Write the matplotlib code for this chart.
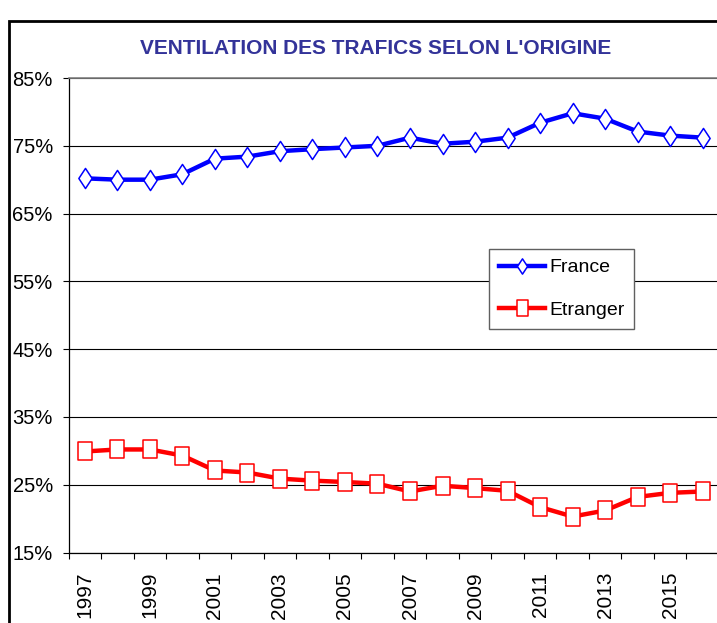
import matplotlib
matplotlib.use("Agg")
import matplotlib.pyplot as plt
from matplotlib.path import Path
from matplotlib.patches import Rectangle
from matplotlib.ticker import FixedLocator, FuncFormatter

# ---- data ----
years = list(range(1997, 2017))
france = [70.2, 70.0, 70.0, 70.8, 73.1, 73.4, 74.2, 74.5, 74.75, 75.0,
          76.2, 75.3, 75.6, 76.2, 78.4, 79.8, 79.0, 77.1, 76.5, 76.2]
etranger = [29.9, 30.2, 30.2, 29.3, 27.1, 26.8, 25.9, 25.6, 25.4, 25.15,
            24.0, 24.85, 24.5, 24.1, 21.7, 20.3, 21.2, 23.2, 23.8, 24.0]
yticks = [15, 25, 35, 45, 55, 65, 75, 85]
title = "VENTILATION DES TRAFICS SELON L'ORIGINE"

W, H = 717, 623
fig = plt.figure(figsize=(W / 100, H / 100), dpi=100)
fig.patch.set_facecolor("white")

# outer frame (top and left visible, rest cut off)
fig.add_artist(Rectangle((9 / W, -0.2), 1.2, 1.2 - 20.5 / H,
                         transform=fig.transFigure, fill=False,
                         edgecolor="black", linewidth=2.0, zorder=0))

ax = fig.add_axes([68.5 / W, 1 - 552.5 / H, (719 - 68.5) / W, (552.5 - 78) / H])
ax.set_facecolor("white")

x = list(range(len(years)))

diamond = Path([(0, -1), (0.66, 0), (0, 1), (-0.66, 0), (0, -1)],
               [Path.MOVETO, Path.LINETO, Path.LINETO, Path.LINETO, Path.CLOSEPOLY])
rect = Path([(-0.72, -1), (0.72, -1), (0.72, 1), (-0.72, 1), (-0.72, -1)],
            [Path.MOVETO, Path.LINETO, Path.LINETO, Path.LINETO, Path.CLOSEPOLY])

ax.plot(x, france, color="#0000FF", linewidth=3.2, marker=diamond,
        markersize=14.5, markerfacecolor="white", markeredgecolor="#0000FF",
        markeredgewidth=1.1, label="France", zorder=3)
ax.plot(x, etranger, color="#FF0000", linewidth=3.2, marker=rect,
        markersize=13.5, markerfacecolor="white", markeredgecolor="#FF0000",
        markeredgewidth=1.1, label="Etranger", zorder=3)

ax.set_xlim(-0.5, len(years) - 0.5)
ax.set_ylim(15, 85)

# y axis
ax.set_yticks(yticks)
ax.yaxis.set_major_formatter(FuncFormatter(lambda v, p: f"{int(v)}%"))
ax.tick_params(axis="y", direction="out", length=4.3, width=0.8, pad=7,
               labelsize=14.5, colors="black")
ax.yaxis.grid(True, color="black", linewidth=0.8, zorder=1)
ax.set_axisbelow(True)

# x axis: boundary ticks (major, unlabeled) + centered labels (minor)
ax.xaxis.set_major_locator(FixedLocator([i - 0.5 for i in range(len(years) + 1)]))
ax.xaxis.set_major_formatter(FuncFormatter(lambda v, p: ""))
ax.xaxis.set_minor_locator(FixedLocator(x[::2]))
ax.set_xticklabels([str(y) for y in years[::2]], minor=True)
ax.tick_params(axis="x", which="major", direction="out", length=4.3, width=0.8)
ax.tick_params(axis="x", which="minor", length=0, pad=14, labelsize=15,
               labelrotation=90)
for lab in ax.get_xticklabels(minor=True):
    lab.set_fontfamily("Liberation Sans")
for lab in ax.get_yticklabels():
    lab.set_fontfamily("Liberation Sans")

for side in ["left", "bottom"]:
    ax.spines[side].set_color("black")
    ax.spines[side].set_linewidth(0.9)
ax.spines["top"].set_color("#808080")
ax.spines["top"].set_linewidth(1.2)
ax.spines["right"].set_visible(False)

# title
fig.text(376 / W, 1 - 48.5 / H, title, ha="center", va="center",
         fontsize=15, fontweight="bold", color="#333399",
         family=["Liberation Sans Narrow", "Liberation Sans"])

# legend
leg = ax.legend(loc="upper left", bbox_to_anchor=(489 / W, 1 - 249 / H),
                bbox_transform=fig.transFigure, frameon=True, fancybox=False,
                edgecolor="#606060", framealpha=1, handlelength=2.4,
                handletextpad=0.2, labelspacing=1.3, borderpad=0.5,
                borderaxespad=0,
                prop={"family": "Liberation Sans", "size": 14})
leg.get_frame().set_linewidth(1.0)
for h in leg.legend_handles:
    h.set_markersize(11)
    h.set_linewidth(3.2)

fig.savefig("out.png", dpi=100)
